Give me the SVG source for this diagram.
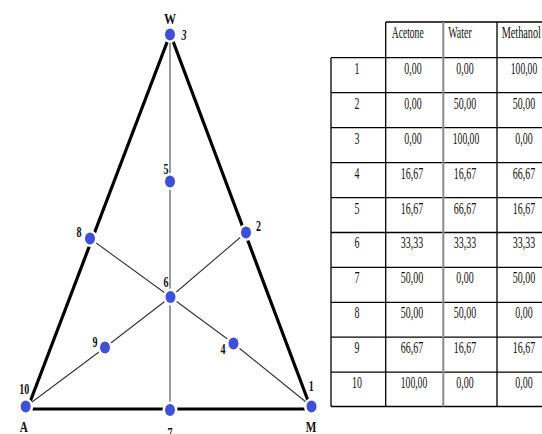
<svg xmlns="http://www.w3.org/2000/svg" width="542" height="434" viewBox="0 0 542 434">
<style>
.bg{fill:#fff}
.edge{stroke:#000;stroke-width:3.2;fill:none;stroke-linecap:butt}
.thin{stroke:#333;stroke-width:1.1;fill:none}
.vert{stroke:#7a7a7a;stroke-width:1.5;fill:none}
.pt{fill:#4050d6;stroke:#fff;stroke-width:5;paint-order:stroke}
.lbl{font-family:"Liberation Serif","Times New Roman",serif;font-size:15px;font-weight:bold;fill:#111;text-anchor:middle}
.cell{font-family:"Liberation Serif","Times New Roman",serif;font-size:16px;fill:#111;text-anchor:middle}
.hdr{font-family:"Liberation Serif","Times New Roman",serif;font-size:16px;fill:#111;text-anchor:start}
.grid{stroke:#000;stroke-width:1.3;fill:none}
.gridg{stroke:#8a8a8a;stroke-width:2;fill:none}
</style>
<rect class="bg" x="0" y="0" width="542" height="434"/>
<g id="connectors">
<line class="vert" x1="170" y1="34.5" x2="170" y2="410"/>
<line class="thin" x1="90" y1="238.5" x2="170.5" y2="297"/>
<line class="thin" x1="170.5" y1="297" x2="233.5" y2="343.5"/>
<line class="thin" x1="233.5" y1="343.5" x2="311.5" y2="406.5"/>
<line class="thin" x1="26" y1="406.5" x2="105" y2="347.5"/>
<line class="thin" x1="105" y1="347.5" x2="170.5" y2="297"/>
<line class="thin" x1="170.5" y1="297" x2="246" y2="232.5"/>
<line class="edge" x1="170" y1="34.5" x2="28.5" y2="406"/>
<line class="edge" x1="170.5" y1="34.5" x2="310" y2="406"/>
<line class="edge" x1="26" y1="409" x2="311.5" y2="409"/>
</g>
<g id="node-3"><ellipse class="pt" cx="170" cy="34.5" rx="5" ry="6"/><text class="lbl" transform="translate(170,23.5) scale(0.8,1)">W</text><text class="lbl" transform="translate(184,39.5) scale(0.67,1)" font-style="italic">3</text></g>
<g id="node-5"><ellipse class="pt" cx="170" cy="181.5" rx="5" ry="6"/><text class="lbl" transform="translate(166,173.5) scale(0.67,1)">5</text></g>
<g id="node-8"><ellipse class="pt" cx="90" cy="238.5" rx="5" ry="6"/><text class="lbl" transform="translate(79,237) scale(0.67,1)">8</text></g>
<g id="node-2"><ellipse class="pt" cx="246" cy="232.5" rx="5" ry="6"/><text class="lbl" transform="translate(258.5,230.5) scale(0.67,1)">2</text></g>
<g id="node-6"><ellipse class="pt" cx="170.5" cy="297" rx="5" ry="6"/><text class="lbl" transform="translate(166,286.5) scale(0.67,1)">6</text></g>
<g id="node-9"><ellipse class="pt" cx="105" cy="347.5" rx="5" ry="6"/><text class="lbl" transform="translate(95,347) scale(0.67,1)">9</text></g>
<g id="node-4"><ellipse class="pt" cx="233.5" cy="343.5" rx="5" ry="6"/><text class="lbl" transform="translate(223,354) scale(0.67,1)">4</text></g>
<g id="node-10"><ellipse class="pt" cx="25.7" cy="406.5" rx="5" ry="6"/><text class="lbl" transform="translate(24.3,393.5) scale(0.67,1)">10</text><text class="lbl" transform="translate(23.7,431.5) scale(0.75,1)">A</text></g>
<g id="node-7"><ellipse class="pt" cx="170" cy="410" rx="5" ry="6"/><text class="lbl" transform="translate(170,438) scale(0.67,1)">7</text></g>
<g id="node-1"><ellipse class="pt" cx="311.5" cy="406.5" rx="5" ry="6"/><text class="lbl" transform="translate(311.3,391) scale(0.67,1)">1</text><text class="lbl" transform="translate(311,431.5) scale(0.75,1)">M</text></g>
<g id="table">
<line class="grid" x1="385.7" y1="22" x2="542" y2="22"/>
<line class="grid" x1="331" y1="57.7" x2="542" y2="57.7"/>
<line class="grid" x1="331" y1="92.7" x2="542" y2="92.7"/>
<line class="grid" x1="331" y1="127.7" x2="542" y2="127.7"/>
<line class="grid" x1="331" y1="162.6" x2="542" y2="162.6"/>
<line class="grid" x1="331" y1="197.6" x2="542" y2="197.6"/>
<line class="grid" x1="331" y1="232.5" x2="542" y2="232.5"/>
<line class="grid" x1="331" y1="267.4" x2="542" y2="267.4"/>
<line class="grid" x1="331" y1="302.3" x2="542" y2="302.3"/>
<line class="grid" x1="331" y1="337.2" x2="542" y2="337.2"/>
<line class="grid" x1="331" y1="372.2" x2="542" y2="372.2"/>
<line class="grid" x1="331" y1="406.5" x2="542" y2="406.5"/>
<line class="grid" x1="331" y1="57.7" x2="331" y2="406.5"/>
<line class="grid" x1="385.7" y1="22" x2="385.7" y2="406.5"/>
<line class="gridg" x1="443.3" y1="22" x2="443.3" y2="406.5"/>
<line class="grid" x1="497" y1="22" x2="497" y2="406.5"/>
<text class="hdr" transform="translate(391.7,37.5) scale(0.6,1)">Acetone</text>
<text class="hdr" transform="translate(448.3,37.5) scale(0.62,1)">Water</text>
<text class="hdr" transform="translate(501.7,37.5) scale(0.64,1)">Methanol</text>
<g transform="translate(0,73.5)">
<text class="cell" transform="translate(357,0) scale(0.62,1)">1</text><text class="cell" transform="translate(413,0) scale(0.62,1)">0,00</text><text class="cell" transform="translate(465,0) scale(0.62,1)">0,00</text><text class="cell" transform="translate(524,0) scale(0.6,1)">100,00</text>
</g>
<g transform="translate(0,108.5)">
<text class="cell" transform="translate(357,0) scale(0.62,1)">2</text><text class="cell" transform="translate(413,0) scale(0.62,1)">0,00</text><text class="cell" transform="translate(465,0) scale(0.62,1)">50,00</text><text class="cell" transform="translate(524,0) scale(0.62,1)">50,00</text>
</g>
<g transform="translate(0,143.5)">
<text class="cell" transform="translate(357,0) scale(0.62,1)">3</text><text class="cell" transform="translate(413,0) scale(0.62,1)">0,00</text><text class="cell" transform="translate(466,0) scale(0.6,1)">100,00</text><text class="cell" transform="translate(524,0) scale(0.62,1)">0,00</text>
</g>
<g transform="translate(0,178.5)">
<text class="cell" transform="translate(357,0) scale(0.62,1)">4</text><text class="cell" transform="translate(412,0) scale(0.62,1)">16,67</text><text class="cell" transform="translate(465,0) scale(0.62,1)">16,67</text><text class="cell" transform="translate(524,0) scale(0.62,1)">66,67</text>
</g>
<g transform="translate(0,213.5)">
<text class="cell" transform="translate(357,0) scale(0.62,1)">5</text><text class="cell" transform="translate(412,0) scale(0.62,1)">16,67</text><text class="cell" transform="translate(465,0) scale(0.62,1)">66,67</text><text class="cell" transform="translate(524,0) scale(0.62,1)">16,67</text>
</g>
<g transform="translate(0,248)">
<text class="cell" transform="translate(357,0) scale(0.62,1)">6</text><text class="cell" transform="translate(412,0) scale(0.62,1)">33,33</text><text class="cell" transform="translate(465,0) scale(0.62,1)">33,33</text><text class="cell" transform="translate(524,0) scale(0.62,1)">33,33</text>
</g>
<g transform="translate(0,283)">
<text class="cell" transform="translate(357,0) scale(0.62,1)">7</text><text class="cell" transform="translate(412,0) scale(0.62,1)">50,00</text><text class="cell" transform="translate(465,0) scale(0.62,1)">0,00</text><text class="cell" transform="translate(524,0) scale(0.62,1)">50,00</text>
</g>
<g transform="translate(0,318)">
<text class="cell" transform="translate(357,0) scale(0.62,1)">8</text><text class="cell" transform="translate(412,0) scale(0.62,1)">50,00</text><text class="cell" transform="translate(465,0) scale(0.62,1)">50,00</text><text class="cell" transform="translate(524,0) scale(0.62,1)">0,00</text>
</g>
<g transform="translate(0,353)">
<text class="cell" transform="translate(357,0) scale(0.62,1)">9</text><text class="cell" transform="translate(412,0) scale(0.62,1)">66,67</text><text class="cell" transform="translate(465,0) scale(0.62,1)">16,67</text><text class="cell" transform="translate(524,0) scale(0.62,1)">16,67</text>
</g>
<g transform="translate(0,387.5)">
<text class="cell" transform="translate(357,0) scale(0.62,1)">10</text><text class="cell" transform="translate(414,0) scale(0.6,1)">100,00</text><text class="cell" transform="translate(465,0) scale(0.62,1)">0,00</text><text class="cell" transform="translate(524,0) scale(0.62,1)">0,00</text>
</g>
</g>
</svg>
